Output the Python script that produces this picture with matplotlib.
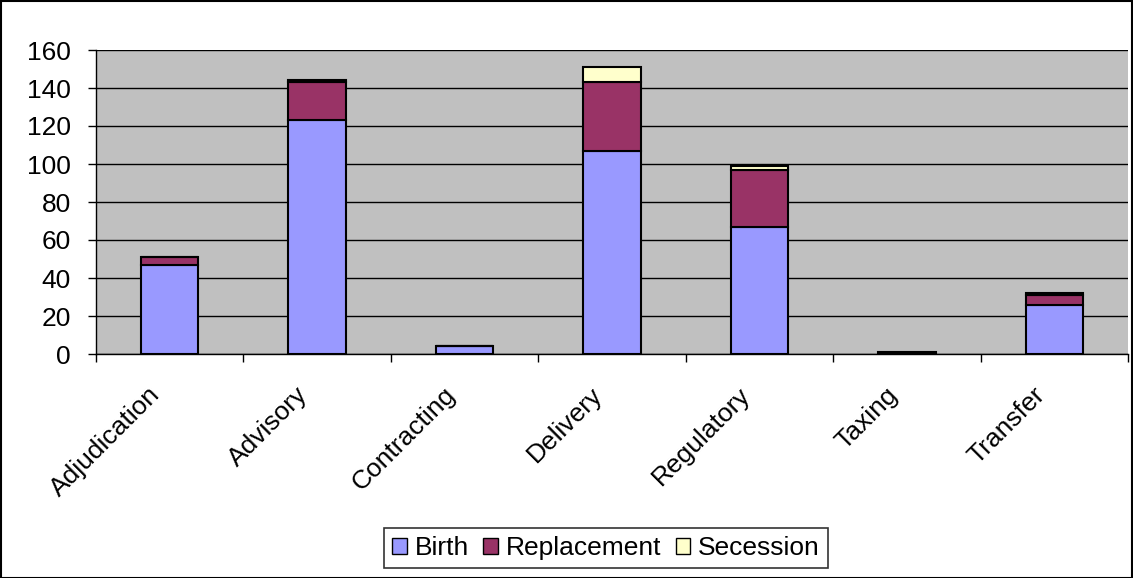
import matplotlib
matplotlib.use("Agg")
import matplotlib.pyplot as plt
import matplotlib.transforms as mtrans
import numpy as np

categories = ["Adjudication", "Advisory", "Contracting", "Delivery", "Regulatory", "Taxing", "Transfer"]
birth = [47, 123, 4, 107, 67, 0, 26]
replacement = [4, 20, 0, 36, 30, 0, 5]
secession = [0, 1, 0, 8, 2, 1, 1]
series_names = ["Birth", "Replacement", "Secession"]
colors = ["#9999FF", "#993366", "#FFFFCC"]

plt.rcParams['font.family'] = ['Liberation Sans', 'DejaVu Sans']
FS = 19

fig = plt.figure(figsize=(11.33, 5.78), dpi=100)
ax = fig.add_axes([96/1133, 1-354/578, (1128-96)/1133, (354-50)/578])
ax.set_facecolor("#C0C0C0")

x = np.arange(len(categories))
w = 0.39
b = np.array(birth, float)
r = np.array(replacement, float)
s = np.array(secession, float)
ax.bar(x, b, w, color=colors[0], edgecolor="black", linewidth=1.5, label=series_names[0], zorder=3)
ax.bar(x, r, w, bottom=b, color=colors[1], edgecolor="black", linewidth=1.5, label=series_names[1], zorder=3)
ax.bar(x, s, w, bottom=b + r, color=colors[2], edgecolor="black", linewidth=1.5, label=series_names[2], zorder=3)

ax.set_xlim(-0.5, len(categories) - 0.5)
ax.set_ylim(0, 160)
ax.set_yticks(range(0, 161, 20))
ax.yaxis.grid(True, color="black", linewidth=1)
ax.set_axisbelow(True)
for sp in ["top", "right"]:
    ax.spines[sp].set_visible(False)
ax.spines["left"].set_linewidth(1)
ax.spines["bottom"].set_linewidth(1)

ax.set_xticks(x)
ax.set_xticklabels(categories, rotation=45, ha="right", va="center", rotation_mode="anchor", fontsize=FS)
ax.tick_params(axis="x", length=0, pad=0)
offset = mtrans.ScaledTranslation(-13/100, -37/100, fig.dpi_scale_trans)
for lab in ax.get_xticklabels():
    lab.set_transform(lab.get_transform() + offset)
ax.set_xticks(np.arange(-0.5, len(categories), 1), minor=True)
ax.tick_params(axis="x", which="minor", length=6, width=1, direction="out")
ax.tick_params(axis="y", length=6, width=1, direction="out", labelsize=FS, pad=12)

leg = fig.legend(loc="center", bbox_to_anchor=(606/1133, 1-548/578), ncol=3, frameon=True,
                 fancybox=False, edgecolor="black", fontsize=FS, handlelength=0.55, handleheight=0.55,
                 handletextpad=0.3, columnspacing=0.55, borderpad=0.3)
leg.get_frame().set_linewidth(1.2)
for h in leg.legend_handles:
    h.set_linewidth(1)

fig.patches.append(plt.Rectangle((0.5/1133, 0.5/578), 1 - 1.5/1133, 1 - 1.5/578, transform=fig.transFigure,
                                 fill=False, edgecolor="black", linewidth=1.5))

fig.savefig("out.png", dpi=100)
